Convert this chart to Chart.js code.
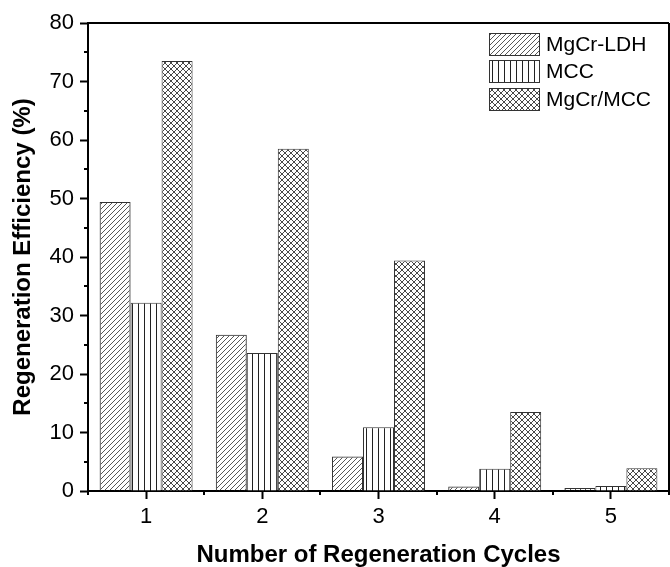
<!DOCTYPE html>
<html>
<head>
<meta charset="utf-8">
<script src="https://cdn.jsdelivr.net/npm/chart.js@4/dist/chart.umd.min.js"></script>
<style>
  html, body { margin: 0; padding: 0; background: #fff; }
  #wrap { width: 670px; height: 567px; }
</style>
</head>
<body>
<div id="wrap"><canvas id="regen-chart" width="670" height="567"></canvas></div>
<script>
const cycles = ["1", "2", "3", "4", "5"];
const seriesNames = ["MgCr-LDH", "MCC", "MgCr/MCC"];
const ldhValues = [49.4, 26.7, 5.9, 0.75, 0.5];
const mccValues = [32.2, 23.6, 10.9, 3.8, 0.85];
const compositeValues = [73.5, 58.5, 39.4, 13.5, 3.9];

const FONT = "'Liberation Sans', Arial, sans-serif";

// hatch fills for the three materials
function makePattern(kind) {
    const c = document.createElement("canvas");
    const ctx = c.getContext("2d");
    if (kind === "diag") {
        c.width = 5; c.height = 5;
        ctx.strokeStyle = "#444";
        ctx.lineWidth = 0.9;
        ctx.beginPath();
        ctx.moveTo(-1, 6); ctx.lineTo(6, -1);
        ctx.moveTo(-1, 1); ctx.lineTo(1, -1);
        ctx.moveTo(4, 6); ctx.lineTo(6, 4);
        ctx.stroke();
    } else if (kind === "vert") {
        c.width = 6; c.height = 4;
        ctx.fillStyle = "#fff";
        ctx.fillRect(0, 0, 6, 4);
        ctx.fillStyle = "#222";
        ctx.fillRect(0, 0, 1, 4);
    } else {
        c.width = 6; c.height = 6;
        ctx.fillStyle = "#fff";
        ctx.fillRect(0, 0, 6, 6);
        ctx.strokeStyle = "#333";
        ctx.lineWidth = 0.9;
        ctx.beginPath();
        ctx.moveTo(0, 0); ctx.lineTo(6, 6);
        ctx.moveTo(6, 0); ctx.lineTo(0, 6);
        ctx.stroke();
    }
    return c.getContext("2d").createPattern(c, "repeat");
}

const fills = [makePattern("diag"), makePattern("vert"), makePattern("cross")];

// frame, minor ticks and the in-plot legend
const framePlugin = {
    id: "frame",
    afterDraw(chart) {
        const { ctx, chartArea: a, scales } = chart;
        ctx.save();
        ctx.strokeStyle = "#000";
        ctx.lineWidth = 2;
        ctx.beginPath();
        ctx.moveTo(a.left, a.top); ctx.lineTo(a.right, a.top);
        ctx.moveTo(a.right, a.top); ctx.lineTo(a.right, a.bottom);
        ctx.stroke();

        ctx.beginPath();
        for (let v = 5; v < 80; v += 10) {
            const y = Math.round(scales.y.getPixelForValue(v));
            ctx.moveTo(a.left - 4, y); ctx.lineTo(a.left, y);
        }
        for (let i = 0; i <= cycles.length; i++) {
            const x = Math.round(scales.x.getPixelForValue(i - 0.5));
            ctx.moveTo(x, a.bottom); ctx.lineTo(x, a.bottom + 4);
        }
        ctx.stroke();

        const boxX = a.right - 180;
        const rows = [10, 37, 65];
        ctx.font = "21px " + FONT;
        ctx.textBaseline = "middle";
        chart.data.datasets.forEach((ds, i) => {
            const y = a.top + rows[i];
            ctx.fillStyle = ds.backgroundColor;
            ctx.fillRect(boxX, y, 50, 22);
            ctx.strokeStyle = "#333";
            ctx.lineWidth = 1;
            ctx.strokeRect(boxX + 0.5, y + 0.5, 50, 22);
            ctx.fillStyle = "#000";
            ctx.fillText(ds.label, boxX + 57, y + 12);
        });
        ctx.restore();
    }
};

const regenData = {
    labels: cycles,
    datasets: [
        { label: seriesNames[0], data: ldhValues, backgroundColor: fills[0] },
        { label: seriesNames[1], data: mccValues, backgroundColor: fills[1] },
        { label: seriesNames[2], data: compositeValues, backgroundColor: fills[2] },
    ].map(ds => Object.assign(ds, {
        borderColor: "#333",
        borderWidth: 1,
        borderSkipped: "bottom",
        categoryPercentage: 0.8,
        barPercentage: 1.0,
    })),
};

const regenConfig = {
    type: "bar",
    data: regenData,
    options: {
        responsive: false,
        animation: false,
        layout: { padding: { top: 23, right: 1, left: 0, bottom: 0 } },
        plugins: { legend: { display: false }, tooltip: { enabled: false } },
        scales: {
            x: {
                grid: { offset: false, drawOnChartArea: false, tickLength: 8, color: "#000", tickWidth: 2 },
                border: { color: "#000", width: 2 },
                ticks: { color: "#000", font: { size: 22, family: FONT }, padding: 5 },
                title: {
                    display: true,
                    text: "Number of Regeneration Cycles",
                    color: "#000",
                    font: { size: 24, weight: "bold", family: FONT, lineHeight: 1 },
                    padding: { top: 0, bottom: 0 },
                },
                afterFit: s => { s.height = 76; },
            },
            y: {
                min: 0,
                max: 80,
                ticks: { stepSize: 10, color: "#000", font: { size: 22, family: FONT }, padding: 6 },
                grid: { drawOnChartArea: false, tickLength: 8, color: "#000", tickWidth: 2 },
                border: { color: "#000", width: 2 },
                title: {
                    display: true,
                    text: "Regeneration Efficiency (%)",
                    color: "#000",
                    font: { size: 24, weight: "bold", family: FONT },
                    padding: { top: 9, bottom: 0 },
                },
                afterFit: s => { s.width = 88; },
            },
        },
    },
    plugins: [framePlugin],
};

const regenChart = new Chart(document.getElementById("regen-chart"), regenConfig);
</script>
</body>
</html>
